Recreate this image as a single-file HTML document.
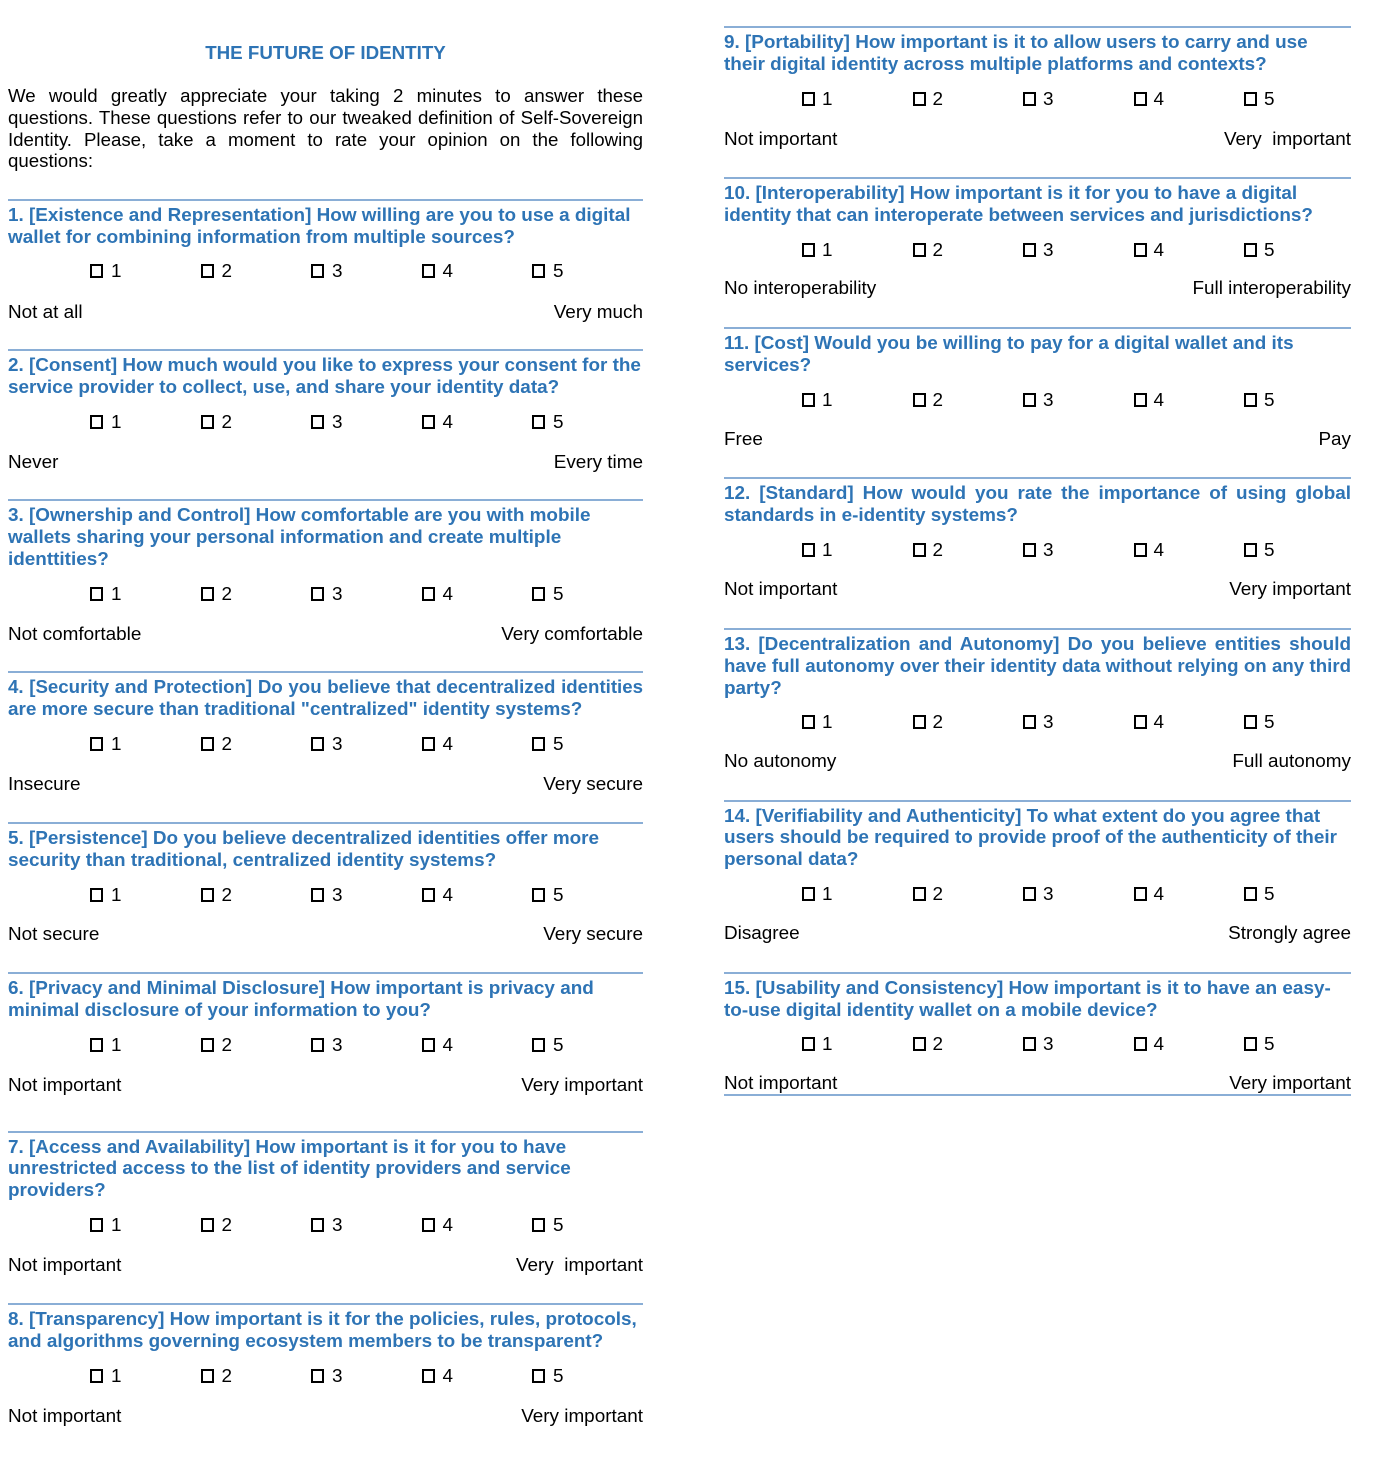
<!DOCTYPE html>
<html lang="en">
<head>
<meta charset="utf-8">
<title>The Future of Identity</title>
<style>
html,body{margin:0;padding:0;background:#fff}
#page{position:relative;width:1379px;height:1460px;overflow:hidden;background:#fff;font-family:"Liberation Sans",sans-serif;font-size:18.9px;color:#000}
.l{position:absolute;height:22px;line-height:22px;white-space:pre;margin-top:2px}
.c1{left:8px;width:635px}
.c2{left:724px;width:627px}
.l.c2:not(.q){margin-top:1px}
.j{text-align:justify;text-align-last:justify;white-space:normal;font-size:18.67px;margin-top:1px}
.w{font-size:18.9px;margin-top:2px}
.i{margin-top:0;font-size:18.67px}
.q{font-weight:bold;color:#2e74b5}
.r{text-align:right}
.rule{position:absolute;height:2px;background:#8aaed6}
.row{position:absolute;height:22px;width:480px;margin-top:1px}
.a{left:90px}
.b{left:802px}
.opt{position:absolute;top:0;height:22px;line-height:22px;padding-left:21px;cursor:pointer}
.b .opt{padding-left:20px}
.opt i{position:absolute;left:0;top:3px;width:9px;height:10px;border:2px solid #000}
.o1{left:0}.o2{left:110.5px}.o3{left:221px}.o4{left:331.5px}.o5{left:442px}
</style>
</head>
<body>
<div id="page">
<div class="l q" style="left:8px;width:635px;text-align:center;top:41px;font-size:18.75px;margin-top:1px">THE FUTURE OF IDENTITY</div>
<div>
<div class="l c1 j i" style="top:85px">We would greatly appreciate your taking 2 minutes to answer these</div>
<div class="l c1 j i" style="top:107px">questions. These questions refer to our tweaked definition of Self-Sovereign</div>
<div class="l c1 j i" style="top:129px">Identity. Please, take a moment to rate your opinion on the following</div>
<div class="l c1 i" style="top:150px">questions:</div>
</div>

<section>
<div class="rule c1" style="top:199px"></div>
<div class="l c1 q" style="top:203px">1. [Existence and Representation] How willing are you to use a digital</div>
<div class="l c1 q" style="top:225px">wallet for combining information from multiple sources?</div>
<div class="row a" style="top:260px">
<label class="opt o1"><i></i>1</label>
<label class="opt o2"><i></i>2</label>
<label class="opt o3"><i></i>3</label>
<label class="opt o4"><i></i>4</label>
<label class="opt o5"><i></i>5</label>
</div>
<div class="l c1" style="top:300px">Not at all</div>
<div class="l c1 r" style="top:300px">Very much</div>
</section>

<section>
<div class="rule c1" style="top:349px"></div>
<div class="l c1 q" style="top:353px">2. [Consent] How much would you like to express your consent for the</div>
<div class="l c1 q" style="top:375px">service provider to collect, use, and share your identity data?</div>
<div class="row a" style="top:411px">
<label class="opt o1"><i></i>1</label>
<label class="opt o2"><i></i>2</label>
<label class="opt o3"><i></i>3</label>
<label class="opt o4"><i></i>4</label>
<label class="opt o5"><i></i>5</label>
</div>
<div class="l c1" style="top:450px">Never</div>
<div class="l c1 r" style="top:450px">Every time</div>
</section>

<section>
<div class="rule c1" style="top:499px"></div>
<div class="l c1 q" style="top:503px">3. [Ownership and Control] How comfortable are you with mobile</div>
<div class="l c1 q" style="top:525px">wallets sharing your personal information and create multiple</div>
<div class="l c1 q" style="top:547px">identtities?</div>
<div class="row a" style="top:583px">
<label class="opt o1"><i></i>1</label>
<label class="opt o2"><i></i>2</label>
<label class="opt o3"><i></i>3</label>
<label class="opt o4"><i></i>4</label>
<label class="opt o5"><i></i>5</label>
</div>
<div class="l c1" style="top:622px">Not comfortable</div>
<div class="l c1 r" style="top:622px">Very comfortable</div>
</section>

<section>
<div class="rule c1" style="top:671px"></div>
<div class="l c1 q j" style="top:675px">4. [Security and Protection] Do you believe that decentralized identities</div>
<div class="l c1 q" style="top:697px">are more secure than traditional "centralized" identity systems?</div>
<div class="row a" style="top:733px">
<label class="opt o1"><i></i>1</label>
<label class="opt o2"><i></i>2</label>
<label class="opt o3"><i></i>3</label>
<label class="opt o4"><i></i>4</label>
<label class="opt o5"><i></i>5</label>
</div>
<div class="l c1" style="top:772px">Insecure</div>
<div class="l c1 r" style="top:772px">Very secure</div>
</section>

<section>
<div class="rule c1" style="top:822px"></div>
<div class="l c1 q" style="top:826px">5. [Persistence] Do you believe decentralized identities offer more</div>
<div class="l c1 q" style="top:848px">security than traditional, centralized identity systems?</div>
<div class="row a" style="top:884px">
<label class="opt o1"><i></i>1</label>
<label class="opt o2"><i></i>2</label>
<label class="opt o3"><i></i>3</label>
<label class="opt o4"><i></i>4</label>
<label class="opt o5"><i></i>5</label>
</div>
<div class="l c1" style="top:922px">Not secure</div>
<div class="l c1 r" style="top:922px">Very secure</div>
</section>

<section>
<div class="rule c1" style="top:972px"></div>
<div class="l c1 q" style="top:976px">6. [Privacy and Minimal Disclosure] How important is privacy and</div>
<div class="l c1 q" style="top:998px">minimal disclosure of your information to you?</div>
<div class="row a" style="top:1034px">
<label class="opt o1"><i></i>1</label>
<label class="opt o2"><i></i>2</label>
<label class="opt o3"><i></i>3</label>
<label class="opt o4"><i></i>4</label>
<label class="opt o5"><i></i>5</label>
</div>
<div class="l c1" style="top:1073px">Not important</div>
<div class="l c1 r" style="top:1073px">Very important</div>
</section>

<section>
<div class="rule c1" style="top:1131px"></div>
<div class="l c1 q" style="top:1135px">7. [Access and Availability] How important is it for you to have</div>
<div class="l c1 q" style="top:1156px">unrestricted access to the list of identity providers and service</div>
<div class="l c1 q" style="top:1178px">providers?</div>
<div class="row a" style="top:1214px">
<label class="opt o1"><i></i>1</label>
<label class="opt o2"><i></i>2</label>
<label class="opt o3"><i></i>3</label>
<label class="opt o4"><i></i>4</label>
<label class="opt o5"><i></i>5</label>
</div>
<div class="l c1" style="top:1253px">Not important</div>
<div class="l c1 r" style="top:1253px">Very  important</div>
</section>

<section>
<div class="rule c1" style="top:1303px"></div>
<div class="l c1 q" style="top:1307px">8. [Transparency] How important is it for the policies, rules, protocols,</div>
<div class="l c1 q" style="top:1329px">and algorithms governing ecosystem members to be transparent?</div>
<div class="row a" style="top:1365px">
<label class="opt o1"><i></i>1</label>
<label class="opt o2"><i></i>2</label>
<label class="opt o3"><i></i>3</label>
<label class="opt o4"><i></i>4</label>
<label class="opt o5"><i></i>5</label>
</div>
<div class="l c1" style="top:1404px">Not important</div>
<div class="l c1 r" style="top:1404px">Very important</div>
</section>

<section>
<div class="rule c2" style="top:26px"></div>
<div class="l c2 q" style="top:30px">9. [Portability] How important is it to allow users to carry and use</div>
<div class="l c2 q" style="top:52px">their digital identity across multiple platforms and contexts?</div>
<div class="row b" style="top:88px">
<label class="opt o1"><i></i>1</label>
<label class="opt o2"><i></i>2</label>
<label class="opt o3"><i></i>3</label>
<label class="opt o4"><i></i>4</label>
<label class="opt o5"><i></i>5</label>
</div>
<div class="l c2" style="top:128px">Not important</div>
<div class="l c2 r" style="top:128px">Very  important</div>
</section>

<section>
<div class="rule c2" style="top:177px"></div>
<div class="l c2 q" style="top:181px">10. [Interoperability] How important is it for you to have a digital</div>
<div class="l c2 q" style="top:203px">identity that can interoperate between services and jurisdictions?</div>
<div class="row b" style="top:239px">
<label class="opt o1"><i></i>1</label>
<label class="opt o2"><i></i>2</label>
<label class="opt o3"><i></i>3</label>
<label class="opt o4"><i></i>4</label>
<label class="opt o5"><i></i>5</label>
</div>
<div class="l c2" style="top:277px">No interoperability</div>
<div class="l c2 r" style="top:277px">Full interoperability</div>
</section>

<section>
<div class="rule c2" style="top:327px"></div>
<div class="l c2 q" style="top:331px">11. [Cost] Would you be willing to pay for a digital wallet and its</div>
<div class="l c2 q" style="top:353px">services?</div>
<div class="row b" style="top:389px">
<label class="opt o1"><i></i>1</label>
<label class="opt o2"><i></i>2</label>
<label class="opt o3"><i></i>3</label>
<label class="opt o4"><i></i>4</label>
<label class="opt o5"><i></i>5</label>
</div>
<div class="l c2" style="top:428px">Free</div>
<div class="l c2 r" style="top:428px">Pay</div>
</section>

<section>
<div class="rule c2" style="top:477px"></div>
<div class="l c2 q j w" style="top:481px">12. [Standard] How would you rate the importance of using global</div>
<div class="l c2 q" style="top:503px">standards in e-identity systems?</div>
<div class="row b" style="top:539px">
<label class="opt o1"><i></i>1</label>
<label class="opt o2"><i></i>2</label>
<label class="opt o3"><i></i>3</label>
<label class="opt o4"><i></i>4</label>
<label class="opt o5"><i></i>5</label>
</div>
<div class="l c2" style="top:578px">Not important</div>
<div class="l c2 r" style="top:578px">Very important</div>
</section>

<section>
<div class="rule c2" style="top:628px"></div>
<div class="l c2 q j w" style="top:632px">13. [Decentralization and Autonomy] Do you believe entities should</div>
<div class="l c2 q j" style="top:654px">have full autonomy over their identity data without relying on any third</div>
<div class="l c2 q" style="top:676px">party?</div>
<div class="row b" style="top:711px">
<label class="opt o1"><i></i>1</label>
<label class="opt o2"><i></i>2</label>
<label class="opt o3"><i></i>3</label>
<label class="opt o4"><i></i>4</label>
<label class="opt o5"><i></i>5</label>
</div>
<div class="l c2" style="top:750px">No autonomy</div>
<div class="l c2 r" style="top:750px">Full autonomy</div>
</section>

<section>
<div class="rule c2" style="top:800px"></div>
<div class="l c2 q" style="top:804px">14. [Verifiability and Authenticity] To what extent do you agree that</div>
<div class="l c2 q" style="top:825px">users should be required to provide proof of the authenticity of their</div>
<div class="l c2 q" style="top:847px">personal data?</div>
<div class="row b" style="top:883px">
<label class="opt o1"><i></i>1</label>
<label class="opt o2"><i></i>2</label>
<label class="opt o3"><i></i>3</label>
<label class="opt o4"><i></i>4</label>
<label class="opt o5"><i></i>5</label>
</div>
<div class="l c2" style="top:922px">Disagree</div>
<div class="l c2 r" style="top:922px">Strongly agree</div>
</section>

<section>
<div class="rule c2" style="top:972px"></div>
<div class="l c2 q" style="top:976px">15. [Usability and Consistency] How important is it to have an easy-</div>
<div class="l c2 q" style="top:998px">to-use digital identity wallet on a mobile device?</div>
<div class="row b" style="top:1033px">
<label class="opt o1"><i></i>1</label>
<label class="opt o2"><i></i>2</label>
<label class="opt o3"><i></i>3</label>
<label class="opt o4"><i></i>4</label>
<label class="opt o5"><i></i>5</label>
</div>
<div class="l c2" style="top:1072px">Not important</div>
<div class="l c2 r" style="top:1072px">Very important</div>
<div class="rule c2" style="top:1094px"></div>
</section>
</div>
</body>
</html>
